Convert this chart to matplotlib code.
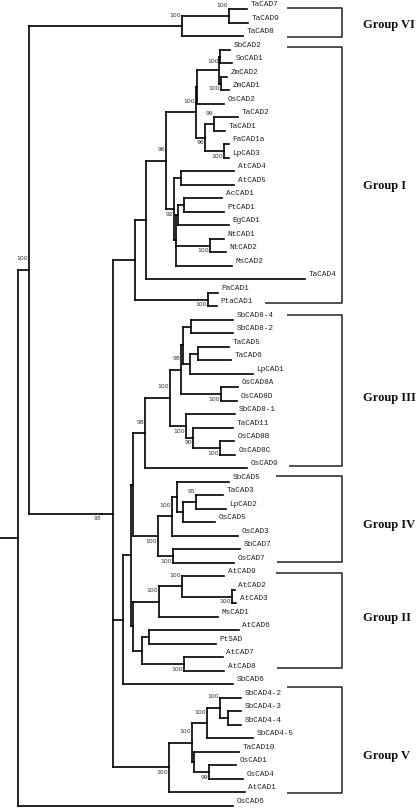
"""
Neighbour-joining tree of CAD genes with bootstrap values and group brackets.
"""

import matplotlib
matplotlib.use("Agg")
import matplotlib.pyplot as plt
from matplotlib.collections import LineCollection

# Sub-trees (Newick, branch lengths, internal nodes named)
GROUP_VI = "((TaCAD7:18,TaCAD9:19)t79:47,TaCAD8:61)nVI:153"
GROUP_I = ("((((((((SbCAD2:10,SoCAD1:12)SbSo:1,(ZmCAD2:6,ZmCAD1:8)Zm:2)K:22,OsCAD2:27)Gp:1,"
           "((TaCAD2:24,TaCAD1:11)TT:9,(FaCAD1a:5,LpCAD3:5)FaLp:19)Tc:9)G:30,"
           "((AtCAD4:53,AtCAD5:53)At45:7,(((AcCAD1:38,PtCAD1:40)AcPt:6,EgCAD1:51)AcPtEg:2,"
           "(NtCAD1:14,NtCAD2:16)Nt:34,MsCAD2:56)H2:2)H:8)F:20,TaCAD4:159)E:11,"
           "(PaCAD1:10,PtaCAD1:9)Pa:73)C:22")
GROUP_III = ("((((SbCAD8-4:42,SbCAD8-2:42)Sb84:8,((TaCAD5:31,TaCAD6:33)T56:8,LpCAD1:63)T56L:7)IIIc:2,"
             "(OsCAD8A:17,OsCAD8D:16)O8AD:40)IIIb:11,(SbCAD8-1:49,(TaCAD11:40,"
             "(OsCAD8B:14,OsCAD8C:15)OsBC:27)IIIe:7)IIId:16)IIIa:25,OsCAD9:102)nIII:12")
GROUP_IV = ("(((SbCAD5:52,((TaCAD3:27,LpCAD2:30)TL:13,OsCAD5:32)TLO:6)n5:5,OsCAD3:66)IVb:14,"
            "(SbCAD7:67,OsCAD7:61)SbOs7:15)nIV:25")
GROUP_II = ("(((AtCAD9:42,(AtCAD2:3,AtCAD3:4)At23:50)At9:23,MsCAD1:59)IIa:26,"
            "((AtCAD6:90,PtSAD:67)S6:7,(AtCAD7:39,AtCAD8:40)A78:42)IIb:9)nII:2")
GROUP_V = ("((((SbCAD4-2:21,(SbCAD4-3:13,SbCAD4-4:13)S34:8)S42:13,SbCAD4-5:46)Sb4:15,"
           "(TaCAD10:45,(OsCAD1:27,OsCAD4:34)O14:15)TOO:2)Va:23,AtCAD1:76)nV:56")

D3 = "(" + GROUP_III + "," + GROUP_IV + ")D3:2"
D1 = "((" + D3 + "," + GROUP_II + ")D2:8,SbCAD6:110)D1:10"
D = "(" + D1 + "," + GROUP_V + ")D:11"
B = "(" + GROUP_I + "," + D + ")B:73"
TREE = "((" + GROUP_VI + "," + B + ")A:11,OsCAD6:215)root;"

# bootstrap support per internal node
SUPPORT = {"t79": 100, "nVI": 100, "SbSo": 100, "Zm": 100, "G": 100, "TT": 99,
           "FaLp": 100, "Tc": 96, "F": 96, "H": 92, "Nt": 100, "A": 100, "B": 93,
           "Pa": 100, "nIII": 98, "IIIa": 100, "IIIb": 98, "O8AD": 100, "IIId": 100,
           "IIIe": 90, "OsBC": 100, "TL": 95, "IVb": 100, "nIV": 100, "SbOs7": 100,
           "At9": 100, "IIa": 100, "At23": 100, "A78": 100, "S42": 100, "Sb4": 100,
           "Va": 100, "O14": 99, "nV": 100}
# support values written above the incoming branch (others go below)
SUPPORT_ABOVE = {"t79", "nVI", "G", "TT", "F", "A", "nIII", "IIIa", "IIIb", "TL",
                 "IVb", "At9", "IIa", "S42", "Sb4", "Va"}

# groups: name, first leaf, last leaf
GROUP_NAMES = ["Group VI", "Group I", "Group III", "Group IV", "Group II", "Group V"]
GROUP_FIRST = ["TaCAD7", "SbCAD2", "SbCAD8-4", "SbCAD5", "AtCAD9", "SbCAD4-2"]
GROUP_LAST = ["TaCAD8", "PtaCAD1", "OsCAD9", "OsCAD7", "AtCAD8", "AtCAD1"]

# layout (pixels)
ROOT_STUB = 18
BRACKET_LEFT_TOP = [287, 287, 287, 276, 276, 287]
BRACKET_LEFT_BOT = [287, 265, 289, 277, 277, 287]
BRACKET_TOP_PAD = [-1, -3, -5, -6, -3, -11]
BRACKET_BOT_PAD = [1, -3, -2, -1, -3, 1]
BRACKET_RIGHT = 342
GROUP_LABEL_X = 363
GROUP_LABEL_Y_OFF = [2, 11, 7, 6, -3, 16]
LEAF_STEP = 13.5
LEAF_Y0 = 9.3


def parse_newick(s):
    pos = 0

    def node():
        nonlocal pos
        children = []
        if s[pos] == "(":
            pos += 1
            while True:
                children.append(node())
                if s[pos] == ",":
                    pos += 1
                    continue
                pos += 1  # ')'
                break
        start = pos
        while pos < len(s) and s[pos] not in ":,();":
            pos += 1
        name = s[start:pos]
        length = 0.0
        if pos < len(s) and s[pos] == ":":
            pos += 1
            start = pos
            while pos < len(s) and s[pos] not in ",();":
                pos += 1
            length = float(s[start:pos])
        return {"name": name, "length": length, "children": children}

    return node()


def layout(tree):
    leaves = []

    def walk(n, x):
        n["x"] = x + n["length"]
        if not n["children"]:
            n["y"] = len(leaves)
            leaves.append(n)
        else:
            for c in n["children"]:
                walk(c, n["x"])
            n["y"] = (n["children"][0]["y"] + n["children"][-1]["y"]) / 2
    walk(tree, ROOT_STUB)
    return leaves


def main():
    tree = parse_newick(TREE)
    leaves = layout(tree)
    leaf_y = {l["name"]: l["y"] for l in leaves}

    fig = plt.figure(figsize=(4.18, 8.09), dpi=100)
    ax = fig.add_axes([0, 0, 1, 1])
    ax.set_xlim(0, 418)
    ax.set_ylim((809 - LEAF_Y0) / LEAF_STEP, -LEAF_Y0 / LEAF_STEP)
    ax.axis("off")
    px = 1 / LEAF_STEP  # one pixel in leaf units

    segs = [[(0, tree["y"]), (tree["x"], tree["y"])]]

    def draw(nd):
        if nd["children"]:
            ys = [c["y"] for c in nd["children"]]
            segs.append([(nd["x"], min(ys)), (nd["x"], max(ys))])
            for c in nd["children"]:
                segs.append([(nd["x"], c["y"]), (c["x"], c["y"])])
                draw(c)
            if nd["name"] in SUPPORT:
                dy = -11 if nd["name"] in SUPPORT_ABOVE else 5
                ax.text(nd["x"] - 1, nd["y"] + dy * px, str(SUPPORT[nd["name"]]),
                        ha="right", va="center", fontsize=4.4, color="#333333",
                        family="DejaVu Sans")
        else:
            ax.text(nd["x"] + 3.5, nd["y"] - 4.5 * px, nd["name"], ha="left",
                    va="center", fontsize=5.6, color="#222222", family="Liberation Mono")
    draw(tree)

    ax.add_collection(LineCollection(segs, colors="black", linewidths=1.2,
                                     capstyle="projecting"))

    # group brackets
    bsegs = []
    for i, name in enumerate(GROUP_NAMES):
        top = leaf_y[GROUP_FIRST[i]] + BRACKET_TOP_PAD[i] * px
        bot = leaf_y[GROUP_LAST[i]] + BRACKET_BOT_PAD[i] * px
        bsegs.append([(BRACKET_LEFT_TOP[i], top), (BRACKET_RIGHT, top),
                      (BRACKET_RIGHT, bot), (BRACKET_LEFT_BOT[i], bot)])
        mid = (top + bot) / 2
        ax.text(GROUP_LABEL_X, mid + GROUP_LABEL_Y_OFF[i] * px, name,
                ha="left", va="center", fontsize=9, fontweight="bold",
                family="Liberation Serif", color="#111111")
    ax.add_collection(LineCollection(bsegs, colors="#222222", linewidths=1.1))

    fig.savefig("out.png", dpi=100)


if __name__ == "__main__":
    main()
